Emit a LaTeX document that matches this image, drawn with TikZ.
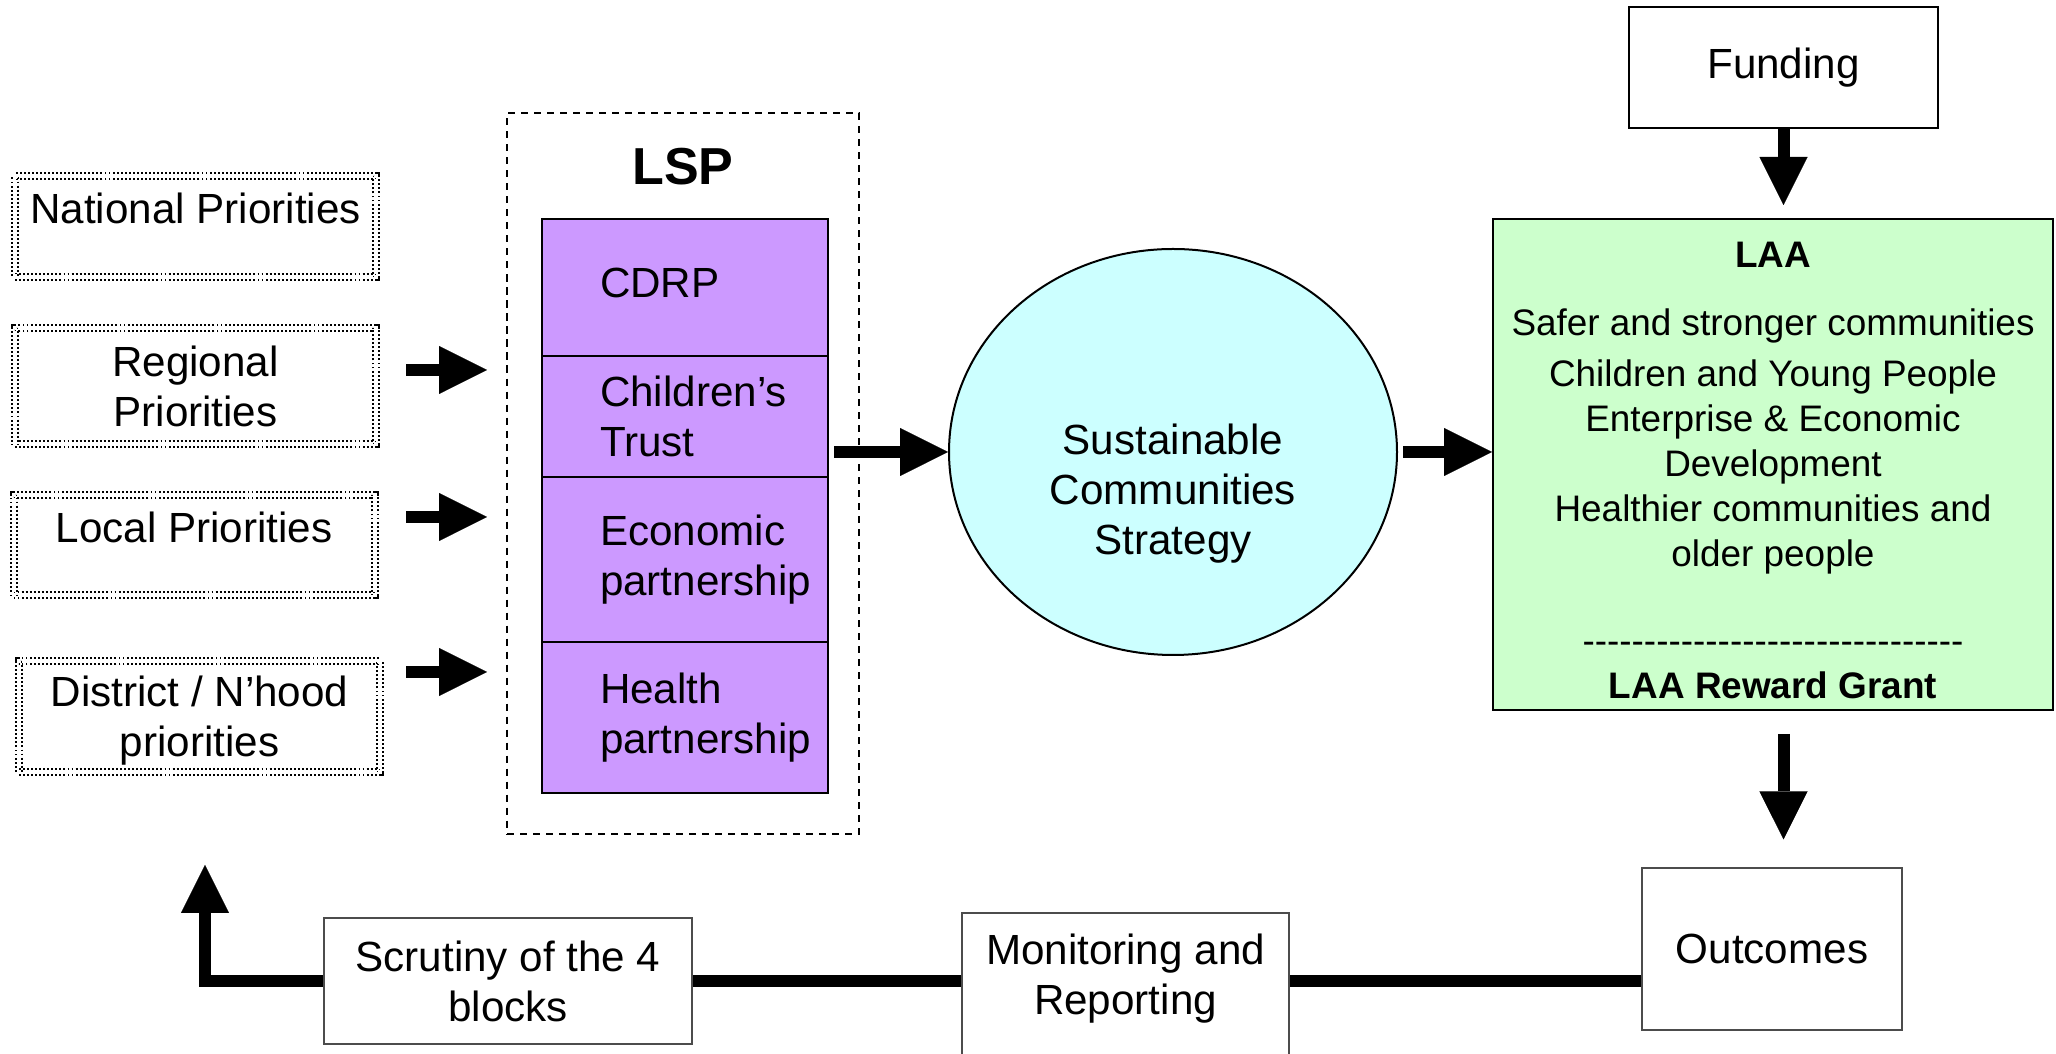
\documentclass[tikz,border=0pt]{standalone}
\usepackage{fontspec}
\setmainfont{Liberation Sans}
\usetikzlibrary{arrows.meta,shapes.geometric}
\hfuzz=3cm
\hbadness=10000
\hyphenpenalty=10000
\definecolor{lspviolet}{HTML}{CC99FF}
\definecolor{scscyan}{HTML}{CCFFFF}
\definecolor{laagreen}{HTML}{CCFFCC}
\pgfdeclarelayer{bg}
\pgfsetlayers{bg,main}
\newcommand{\hyphenrow}[1]{\foreach \k in {1,...,#1}{\mbox{-}}}
\tikzset{
    every node/.style={inner sep=0mm, align=center, font=\fontsize{12}{14.2}\selectfont}
}
\tikzset{
    prio/.style={draw, line width=0.2mm, dash pattern=on 0.55pt off 0.6pt, double, double distance=0.4mm, minimum width=36.1mm},
    cell/.style={draw, fill=lspviolet, line width=0.2mm, minimum width=28.6mm, text width=17mm, inner xsep=5.8mm, align=left},
    plainbox/.style={draw=black!70, line width=0.12mm, fill=white},
    arr/.style={line width=1.2mm, -{Triangle[length=4.8mm, width=4.8mm, line width=0.01mm]}},
    flow/.style={line width=1.15mm}
}

\begin{document}
\begin{tikzpicture}[x=0.1mm, y=-0.1mm]
        \useasboundingbox (0,0) rectangle (2056,1054);
        \node (nat) [prio, minimum height=10.1mm] at (195.5, 226.5) {National Priorities\\[-4pt]~};
        \node (reg) [prio, minimum height=11.6mm] at (195.5, 386) {Regional\\Priorities};
        \node (loc) [prio, minimum height=10mm] at (194, 545) {Local Priorities\\[-4pt]~};
        \node (dis) [prio, minimum height=11.1mm, text depth=-2pt] at (199.5, 716.5) {District / N’hood\\priorities};
        \node (lsp) [draw, line width=0.15mm, dash pattern=on 2pt off 1.7pt, minimum width=35.2mm, minimum height=72.1mm] at (683, 473.5) {};
        \node (lsptitle) [font=\fontsize{14.8}{17}\selectfont\bfseries] at (683, 167) {LSP};
        \node (cdrp) [cell, minimum height=13.7mm, text depth=2.8pt] at (685, 287.5) {CDRP};
        \node (trust) [cell, minimum height=12.1mm] at (685, 416.5) {Children’s\\Trust};
        \node (econ) [cell, minimum height=16.5mm] at (685, 559.5) {Economic\\partnership};
        \node (health) [cell, minimum height=15.1mm] at (685, 717.5) {Health\\partnership};
        \node (sus) [ellipse, draw, fill=scscyan, line width=0.2mm, minimum width=44.8mm, minimum height=40.6mm,
                label={[yshift=-4.2mm]center:{Sustainable\\Communities\\Strategy}}] at (1173, 452) {};
        \node (fund) [draw, line width=0.2mm, minimum width=30.9mm, minimum height=12.1mm] at (1783.5, 67.5) {Funding};
        \node (laa) [draw, fill=laagreen, line width=0.2mm, minimum width=56mm, minimum height=49.1mm,
                label={[yshift=-0.6mm, font=\fontsize{10.5}{12.8}\selectfont]center:{{\bfseries LAA}\\[6.8pt]
                Safer and stronger communities\\[1.7pt]
                Children and Young People\\
                Enterprise \& Economic\\
                Development\\
                Healthier communities and\\
                older people\\[12pt]
                \hyphenrow{31}\\
                {\bfseries LAA Reward Grant}}}] at (1773, 464.5) {};
        \node (outc) [plainbox, minimum width=26mm, minimum height=16.2mm] at (1772, 949) {Outcomes};
        \node (mon) [plainbox, minimum width=32.7mm, minimum height=17.2mm] at (1125.5, 999) {Monitoring and\\Reporting\\~};
        \node (scr) [plainbox, minimum width=36.8mm, minimum height=12.6mm] at (508, 981) {Scrutiny of the 4\\blocks};
        \coordinate (back) at (205, 865);
        \begin{pgfonlayer}{bg}
                \foreach \p/\y in {reg/370, loc/517, dis/672} {
                        \coordinate (\p-a) at (406, \y);
                        \coordinate (\p-b) at (487, \y);
                        \draw[arr] (\p-a) -- (\p-b);
                }
                \draw[arr, shorten <=0.5mm] (trust.east |- sus.west) -- (sus.west);
                \draw[arr, shorten <=0.5mm] (sus.east) -- (sus.east -| laa.west);
                \draw[arr, shorten >=1.3mm] (fund.south) -- (fund.south |- laa.north);
                \draw[arr, shorten <=2.3mm, shorten >=2.8mm] (laa.south -| fund.south) -- (outc.north -| fund.south);
                \draw[flow] (outc.west |- scr.east) -- (mon.east |- scr.east);
                \draw[flow] (mon.west |- scr.east) -- (scr.east);
                \draw[arr] (scr.west) -| (back);
        \end{pgfonlayer}
\end{tikzpicture}
\end{document}
